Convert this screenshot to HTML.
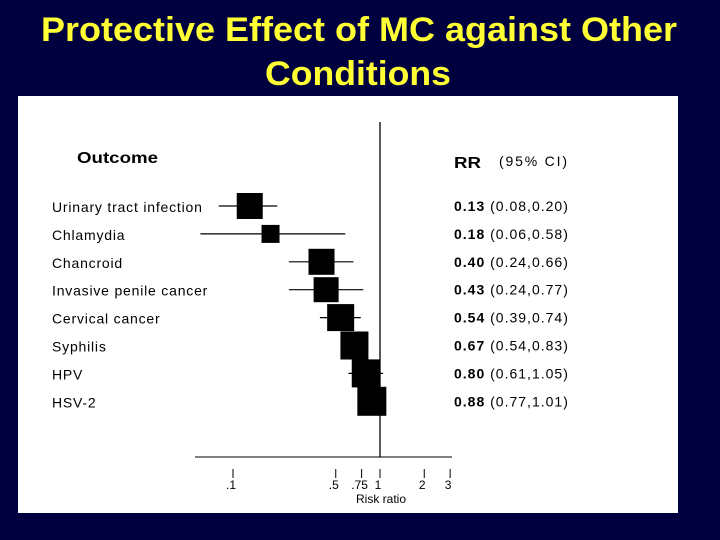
<!DOCTYPE html>
<html><head><meta charset="utf-8"><style>
html,body{margin:0;padding:0;background:#00003f;}
svg{display:block;font-family:"Liberation Sans",Arial,sans-serif;}
</style></head><body>
<svg id="chart" width="720" height="540" viewBox="0 0 720 540">
<rect x="0" y="0" width="720" height="540" fill="#00003f"/>
<text x="359" y="41" text-anchor="middle" fill="#ffff33" font-size="34" font-weight="bold" textLength="636" lengthAdjust="spacingAndGlyphs">Protective Effect of MC against Other</text>
<text x="358" y="85" text-anchor="middle" fill="#ffff33" font-size="34" font-weight="bold" textLength="186" lengthAdjust="spacingAndGlyphs">Conditions</text>
<rect x="18" y="96" width="660" height="417" fill="#ffffff"/>
<text x="77" y="163" font-size="16" font-weight="bold" fill="#000" textLength="81" lengthAdjust="spacingAndGlyphs">Outcome</text>
<text x="454" y="168" font-size="16" font-weight="bold" fill="#000" textLength="27" lengthAdjust="spacingAndGlyphs">RR</text>
<text x="499" y="166" font-size="14" fill="#000" textLength="68" lengthAdjust="spacing">(95% CI)</text>
<line x1="380" y1="122" x2="380" y2="457" stroke="#000" stroke-width="1.3"/>
<line x1="195" y1="457" x2="452" y2="457" stroke="#000" stroke-width="1"/>
<text x="381" y="503" text-anchor="middle" font-size="12" fill="#000">Risk ratio</text>
<g id="marks"></g>
</svg>
<script>
const outcomes = ["Urinary tract infection","Chlamydia","Chancroid","Invasive penile cancer","Cervical cancer","Syphilis","HPV","HSV-2"];
const rr = [0.13,0.18,0.40,0.43,0.54,0.67,0.80,0.88];
const lo = [0.08,0.06,0.24,0.24,0.39,0.54,0.61,0.77];
const hi = [0.20,0.58,0.66,0.77,0.74,0.83,1.05,1.01];
const weights = [13,9,13,12.5,13.5,14,14,14.5];
const tickValues = [0.1,0.5,0.75,1,2,3];
const tickLabels = [".1",".5",".75","1","2","3"];

const NS = "http://www.w3.org/2000/svg";
const g = document.getElementById("marks");
const xScale = v => 380 + 147 * Math.log10(v);
const yScale = i => 206 + i * 27.9;
const fmt = v => v.toFixed(2);
function mk(tag, attrs){const e=document.createElementNS(NS,tag);for(const k in attrs)e.setAttribute(k,attrs[k]);g.appendChild(e);return e;}

outcomes.forEach((name,i)=>{
  const y = yScale(i);
  const lab = mk("text",{x:52,y:y+6,"font-size":14,"letter-spacing":0.8,fill:"#000"});
  lab.textContent = name;
  
  
  const ci = mk("line",{x1:xScale(lo[i]),x2:xScale(hi[i]),y1:y,y2:y,stroke:"#000","stroke-width":1.2});
  
  
  const h = weights[i];
  const box = mk("rect",{x:xScale(rr[i])-h,y:y-h,width:2*h,height:2*h,fill:"#000"});
  
  
  const t = mk("text",{x:454,y:y+5,"font-size":14,"letter-spacing":1,fill:"#000"});
  t.innerHTML = '<tspan font-weight="bold">'+fmt(rr[i])+'</tspan> ('+fmt(lo[i])+','+fmt(hi[i])+')';
  
  
});

tickValues.forEach((v,i)=>{
  const x = xScale(v);
  const tk = mk("line",{x1:x,x2:x,y1:469,y2:478,stroke:"#000","stroke-width":1});
  
  
  const tl = mk("text",{x:x-2,y:489,"text-anchor":"middle","font-size":12,fill:"#000"});
  tl.textContent = tickLabels[i];
  
  
});
</script>
</body></html>
